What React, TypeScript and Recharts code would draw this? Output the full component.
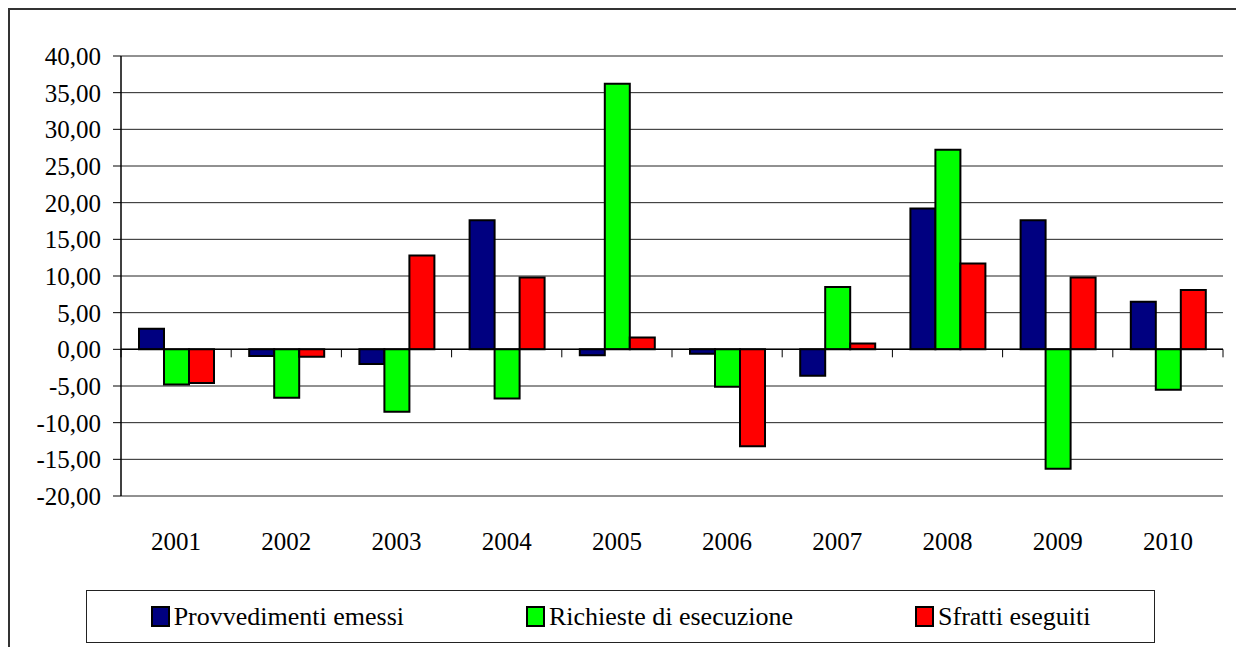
import React from 'react';
import { BarChart, Bar, XAxis, YAxis, CartesianGrid, ReferenceLine } from 'recharts';

const years = ['2001', '2002', '2003', '2004', '2005', '2006', '2007', '2008', '2009', '2010'];
const provvedimenti = [2.8, -0.9, -2.0, 17.6, -0.8, -0.6, -3.6, 19.2, 17.6, 6.5];
const richieste = [-4.8, -6.6, -8.5, -6.7, 36.2, -5.1, 8.5, 27.2, -16.3, -5.5];
const sfratti = [-4.6, -1.0, 12.8, 9.8, 1.6, -13.2, 0.8, 11.7, 9.8, 8.1];
const yTicks = [-20, -15, -10, -5, 0, 5, 10, 15, 20, 25, 30, 35, 40];

const series = [
  { key: 'provvedimenti', name: 'Provvedimenti emessi', color: '#000080' },
  { key: 'richieste', name: 'Richieste di esecuzione', color: '#00FF00' },
  { key: 'sfratti', name: 'Sfratti eseguiti', color: '#FF0000' },
];

const data = years.map((year, i) => ({
  year,
  provvedimenti: provvedimenti[i],
  richieste: richieste[i],
  sfratti: sfratti[i],
}));

const FONT = "'Liberation Serif', 'DejaVu Serif', serif";
const CHART_W = 1234;
const CHART_H = 560;
const MARGIN = { top: 46, right: 21, left: 0, bottom: 0 };
const Y_AXIS_W = 111;
const X_AXIS_H = 74;
const PLOT_LEFT = MARGIN.left + Y_AXIS_W;
const PLOT_W = CHART_W - PLOT_LEFT - MARGIN.right;
const PLOT_H = CHART_H - MARGIN.top - MARGIN.bottom - X_AXIS_H;
const PLOT_BOTTOM = MARGIN.top + PLOT_H;
const ZERO_Y = MARGIN.top + PLOT_H * (40 / 60);
const BAND = PLOT_W / years.length;

const fmt = (v: number) => v.toFixed(2).replace('.', ',');

const YearTick = (props: any) => {
  const { x, payload, index } = props;
  const left = x - BAND / 2;
  return (
    <g>
      <line x1={left} y1={ZERO_Y} x2={left} y2={ZERO_Y + 8} stroke="#000" strokeWidth={1} />
      {index === years.length - 1 && (
        <line x1={x + BAND / 2} y1={ZERO_Y} x2={x + BAND / 2} y2={ZERO_Y + 8} stroke="#000" strokeWidth={1} />
      )}
      <text x={x} y={PLOT_BOTTOM + 54} textAnchor="middle" style={{ fontFamily: FONT }} fontSize={25} fill="#000">
        {payload.value}
      </text>
    </g>
  );
};

const App: React.FC = () => {
  return (
    <div
      style={{
        position: 'relative',
        width: 1236,
        height: 639,
        borderLeft: '2px solid #333',
        borderTop: '2px solid #333',
        boxSizing: 'border-box',
        background: '#fff',
        fontFamily: FONT,
      }}
    >
      <BarChart width={CHART_W} height={CHART_H} data={data} margin={MARGIN} barGap={0} barSize={25} style={{ fontFamily: FONT }}>
        <CartesianGrid vertical={false} stroke="#222" strokeWidth={1} />
        <XAxis
          dataKey="year"
          height={X_AXIS_H}
          axisLine={false}
          tickLine={false}
          interval={0}
          tick={<YearTick />}
        />
        <YAxis
          width={Y_AXIS_W}
          domain={[-20, 40]}
          ticks={yTicks}
          interval={0}
          tickFormatter={fmt}
          axisLine={{ stroke: '#000', strokeWidth: 1.5 }}
          tickLine={{ stroke: '#000' }}
          tickSize={8}
          tickMargin={12}
          tick={{ fontFamily: FONT, fontSize: 25, fill: '#000', style: { fontFamily: FONT } }}
        />
        <YAxis
          yAxisId="frame"
          orientation="right"
          width={0}
          domain={[-20, 40]}
          tick={false}
          tickLine={false}
          axisLine={{ stroke: '#000', strokeWidth: 1.5 }}
        />
        <ReferenceLine y={0} stroke="#000" strokeWidth={1.5} />
        {series.map((s) => (
          <Bar
            key={s.key}
            dataKey={s.key}
            name={s.name}
            fill={s.color}
            stroke="#000"
            strokeWidth={2}
            isAnimationActive={false}
          />
        ))}
      </BarChart>
      <div
        style={{
          position: 'absolute',
          left: 76,
          top: 580,
          width: 1069,
          height: 53,
          border: '1px solid #222',
          boxSizing: 'border-box',
          display: 'flex',
          justifyContent: 'center',
          alignItems: 'center',
          gap: 122,
          fontFamily: FONT,
          fontSize: 26,
          color: '#000',
        }}
      >
        {series.map((s) => (
          <div key={s.key} style={{ display: 'flex', alignItems: 'center' }}>
            <span
              style={{
                display: 'inline-block',
                width: 15,
                height: 17,
                background: s.color,
                border: '2px solid #000',
                marginRight: 4,
              }}
            />
            <span>{s.name}</span>
          </div>
        ))}
      </div>
    </div>
  );
};

export default App;
